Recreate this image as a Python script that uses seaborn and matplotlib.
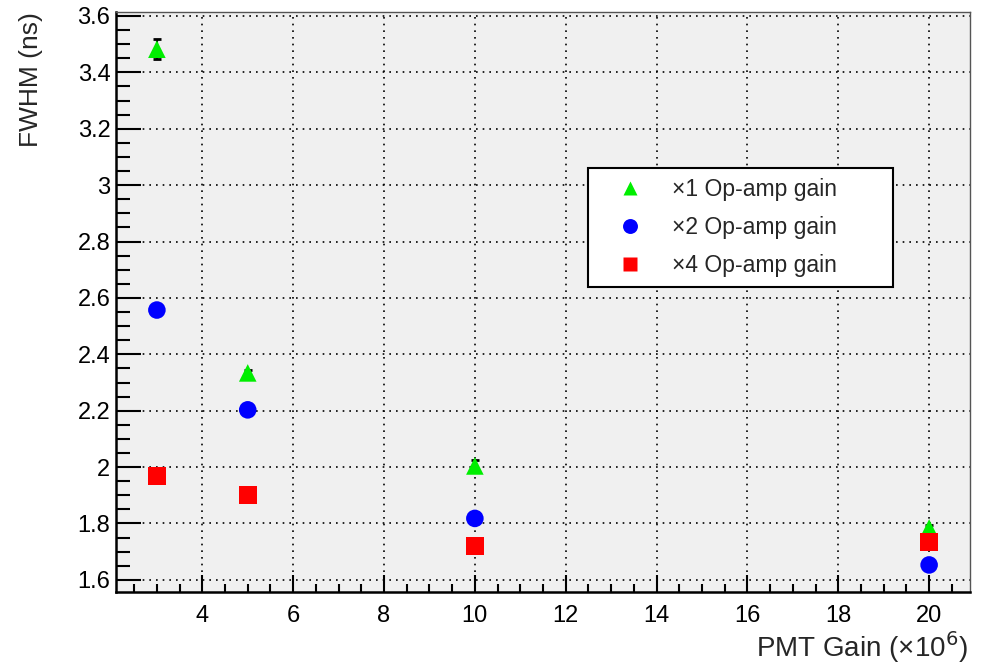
import numpy as np
import pandas as pd
import matplotlib
matplotlib.use("Agg")
import matplotlib.pyplot as plt
import seaborn as sns
from matplotlib.ticker import MultipleLocator, FuncFormatter

sns.set_theme(style="ticks")
plt.rcParams['font.family'] = ['Liberation Sans', 'DejaVu Sans']

# Dati
pmt_gain = [3, 5, 10, 20]
fwhm_x1 = [3.482, 2.334, 2.004, 1.784]
fwhm_x2 = [2.557, 2.203, 1.818, 1.653]
fwhm_x4 = [1.969, 1.901, 1.720, 1.735]
err_x1 = [0.035, 0.010, 0.020, 0.010]
series_names = ["×1 Op-amp gain", "×2 Op-amp gain", "×4 Op-amp gain"]

df = pd.DataFrame({
    "gain": pmt_gain * 3,
    "fwhm": fwhm_x1 + fwhm_x2 + fwhm_x4,
    "serie": [series_names[0]] * 4 + [series_names[1]] * 4 + [series_names[2]] * 4,
})

fig = plt.figure(figsize=(9.82, 6.64), dpi=100)
ax = fig.add_axes([116 / 982, 1 - 592 / 664, 854 / 982, 580 / 664])
ax.set_facecolor("#f0f0f0")

# barre d'errore (visibili solo sulla serie x1)
ax.errorbar(pmt_gain, fwhm_x1, yerr=err_x1, fmt="none", ecolor="black",
            elinewidth=1.5, capsize=3, capthick=2, zorder=2)

sns.scatterplot(
    data=df, x="gain", y="fwhm", hue="serie", style="serie",
    palette={series_names[0]: "#00ee00", series_names[1]: "#0000ff", series_names[2]: "#ff0000"},
    markers={series_names[0]: "^", series_names[1]: "o", series_names[2]: "s"},
    s=160, edgecolor="none", ax=ax, zorder=3,
)

ax.set_xlim(2.1, 20.9)
ax.set_ylim(1.557, 3.614)
ax.set_xticks(list(range(4, 21, 2)))
ax.xaxis.set_minor_locator(MultipleLocator(0.5))
ax.yaxis.set_major_locator(MultipleLocator(0.2))
ax.yaxis.set_minor_locator(MultipleLocator(0.05))
ax.yaxis.set_major_formatter(FuncFormatter(lambda v, p: f"{v:g}"))

ax.tick_params(which="both", direction="in", colors="black", width=1.5)
ax.tick_params(axis="y", which="major", length=18, labelsize=17, pad=4)
ax.tick_params(axis="y", which="minor", length=10)
ax.tick_params(axis="x", which="major", length=12, labelsize=17, pad=9)
ax.tick_params(axis="x", which="minor", length=6)
ax.tick_params(axis="y", which="both", left=True, right=False)
ax.tick_params(axis="x", which="both", bottom=True, top=False)

ax.grid(True, which="major", linestyle=(0, (1, 3)), color="black", linewidth=1.2)
for side in ["left", "bottom"]:
    ax.spines[side].set_linewidth(1.8)
    ax.spines[side].set_color("black")
for side in ["top", "right"]:
    ax.spines[side].set_linewidth(1.0)
    ax.spines[side].set_color("#555555")

ax.set_xlabel("PMT Gain (×10$^6$)", fontsize=20, loc="right")
ax.set_ylabel("FWHM (ns)", fontsize=19, loc="top")
ax.xaxis.set_label_coords(0.998, -0.064)
ax.yaxis.set_label_coords(-0.085, 1.0)

leg = ax.legend(
    title=None, loc="upper left", bbox_to_anchor=(0.5527, 0.5293, 0.357, 0.2017),
    mode="expand", fontsize=16.5,
    frameon=True, fancybox=False, edgecolor="black", facecolor="white",
    framealpha=1.0, borderpad=0.45, labelspacing=0.65, handletextpad=0.4,
    handlelength=2.8, markerscale=0.85, borderaxespad=0,
)
leg.get_frame().set_linewidth(1.5)

fig.savefig("out.png", dpi=100)
